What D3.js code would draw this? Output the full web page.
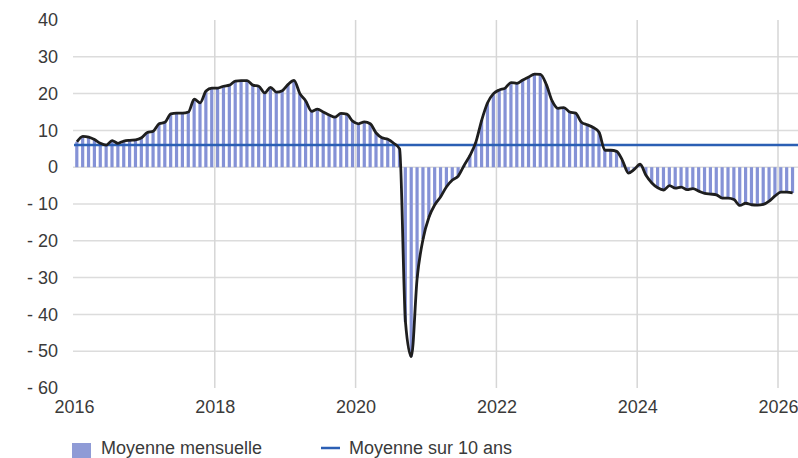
<!DOCTYPE html>
<meta charset="utf-8">
<style>
    body {
        margin: 0;
        background: #fff;
    }

    svg {
        font-family: "Liberation Sans", Arial, sans-serif;
    }

    .tick text, .legend text {
        fill: #3a3a3a;
        font-size: 18px;
    }
</style>

<body>
    <script src="https://cdn.jsdelivr.net/npm/d3@7"></script>
    <script>
        // monthly values, Jan 2016 -> Mar 2026
        var startYear = 2016;
        var monthly = [
            6.9, 8.4, 8.2, 7.5, 6.5, 6.0, 7.2, 6.5, 7.1, 7.3, 7.4, 8.0,
            9.4, 9.8, 11.8, 12.2, 14.5, 14.7, 14.7, 15.0, 18.5, 17.5, 20.7, 21.5,
            21.5, 22.0, 22.3, 23.4, 23.5, 23.5, 22.3, 22.0, 20.2, 21.7, 20.4, 20.8,
            22.5, 23.6, 20.0, 18.0, 15.2, 15.8, 15.0, 14.2, 13.6, 14.6, 14.4, 12.5,
            11.8, 12.3, 11.8, 9.3, 8.0, 7.6, 6.5, 5.0, -42.0, -51.5, -30.0, -19.5,
            -13.6, -10.2, -8.0, -5.3, -3.5, -2.4, 0.5, 3.2, 6.8, 12.8, 17.5, 20.0,
            21.0, 21.5, 23.0, 22.8, 23.7, 24.5, 25.3, 25.2, 22.5, 18.0, 16.0, 16.2,
            15.0, 14.7, 12.2, 11.5, 10.8, 9.5, 4.6, 4.6, 4.3, 1.8, -1.6, -0.6,
            0.8, -2.2, -4.3, -5.6, -6.2, -5.0, -5.7, -5.4, -6.1, -5.8, -6.5, -7.1,
            -7.3, -7.5, -8.4, -8.4, -8.8, -10.4, -9.8, -10.2, -10.3, -10.1, -9.2, -7.8,
            -6.8, -6.8, -7.0
        ];
        var tenYearMean = 6.0;
        var yTicks = [40, 30, 20, 10, 0, -10, -20, -30, -40, -50, -60];
        var xTicks = [2016, 2018, 2020, 2022, 2024, 2026];
        var legendLabels = ["Moyenne mensuelle", "Moyenne sur 10 ans"];

        var width = 798,
            height = 458;

        var x = d3.scaleLinear().domain([2016, 2026]).range([74, 778]);
        var y = d3.scaleLinear().domain([-60, 40]).range([388, 20]);
        var xEnd = 798;

        var data = monthly.map(function(v, i) {
            return { t: startYear + i / 12, v: v };
        });

        var svg = d3.select("body").append("svg")
            .attr("width", width)
            .attr("height", height);

        // horizontal grid
        svg.append("g").selectAll("line")
            .data(yTicks.filter(d => d > -60 && d < 40))
            .enter().append("line")
            .attr("x1", 73).attr("x2", xEnd)
            .attr("y1", d => y(d)).attr("y2", d => y(d))
            .attr("stroke", "#dcdcdc")
            .attr("stroke-width", 1.5);

        // vertical grid
        svg.append("g").selectAll("line")
            .data(xTicks.filter(d => d > 2016))
            .enter().append("line")
            .attr("x1", d => x(d)).attr("x2", d => x(d))
            .attr("y1", y(40)).attr("y2", y(-60))
            .attr("stroke", "#d6d6d6")
            .attr("stroke-width", 1.5);

        // y axis labels
        var yAxis = d3.axisLeft(y)
            .tickValues(yTicks)
            .tickSize(0)
            .tickPadding(0)
            .tickFormat(d => d < 0 ? "- " + Math.abs(d) : d);
        svg.append("g")
            .attr("transform", "translate(58,0)")
            .call(yAxis)
            .call(g => g.select(".domain").remove());

        // x axis labels
        var xAxis = d3.axisBottom(x)
            .tickValues(xTicks)
            .tickSize(0)
            .tickPadding(0)
            .tickFormat(d3.format("d"));
        svg.append("g")
            .attr("transform", "translate(0,400)")
            .call(xAxis)
            .call(g => g.select(".domain").remove())
            .selectAll("text").attr("dy", "0.71em");

        // bars
        var barW = 3.2;
        svg.append("g").selectAll("rect")
            .data(data)
            .enter().append("rect")
            .attr("x", d => x(d.t) + 1.2)
            .attr("width", barW)
            .attr("y", d => y(Math.max(0, d.v)))
            .attr("height", d => Math.abs(y(d.v) - y(0)))
            .attr("fill", "#8592d6");

        // ten year mean
        svg.append("line")
            .attr("x1", x(2016)).attr("x2", xEnd)
            .attr("y1", y(tenYearMean)).attr("y2", y(tenYearMean))
            .attr("stroke", "#2b5fb4")
            .attr("stroke-width", 2.5);

        // monthly line
        var line = d3.line()
            .x(d => x(d.t + 0.5 / 12))
            .y(d => y(d.v))
            .curve(d3.curveMonotoneX);
        svg.append("path")
            .datum(data)
            .attr("d", line)
            .attr("fill", "none")
            .attr("stroke", "#1e1e1e")
            .attr("stroke-width", 2.8)
            .attr("stroke-linejoin", "round");

        // legend
        var legend = svg.append("g").attr("class", "legend");
        legend.append("rect")
            .attr("x", 72).attr("y", 443)
            .attr("width", 19).attr("height", 15)
            .attr("fill", "#8f9bd6");
        legend.append("text")
            .attr("x", 101).attr("y", 454)
            .text(legendLabels[0]);
        legend.append("line")
            .attr("x1", 321).attr("x2", 340)
            .attr("y1", 448).attr("y2", 448)
            .attr("stroke", "#2b5fb4")
            .attr("stroke-width", 2.5);
        legend.append("text")
            .attr("x", 349).attr("y", 454)
            .text(legendLabels[1]);
    </script>
</body>

</html>
